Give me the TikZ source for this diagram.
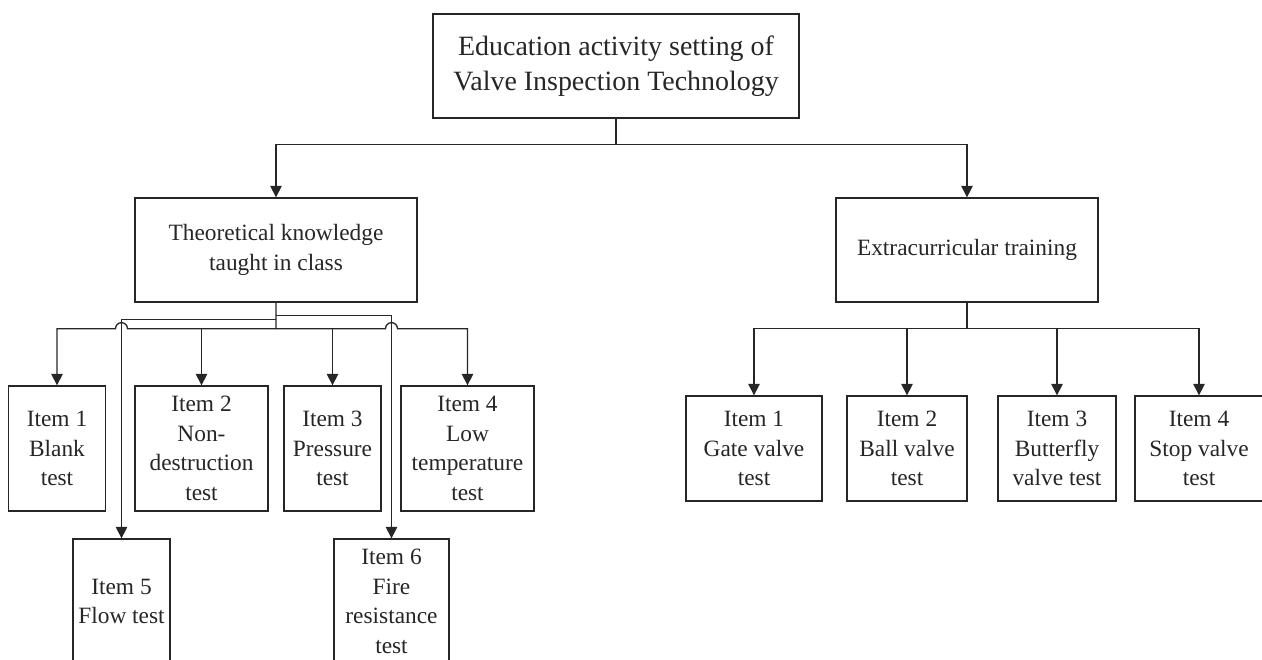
\documentclass[tikz,border=0pt]{standalone}
\usepackage{fontspec}
\setmainfont{Liberation Serif}
\usetikzlibrary{arrows.meta,shapes}

\begin{document}
\begin{tikzpicture}[shape=rectangle,>={Triangle[length=6.5pt,width=6.5pt]},
line width=0.75pt, color=black!85,
every node/.style={align=center, inner sep=0pt},
box/.style={draw, font=\fontsize{13.3}{16.8}\selectfont}]
\useasboundingbox (0,0) rectangle (25.24,-13.2);
\clip (0,0) rectangle (25.24,-13.2);

\node (educationSetting) [box, minimum width=7.32cm, minimum height=2.08cm,
font=\fontsize{15.9}{19.9}\selectfont] at (12.32,-1.32)
{Education activity setting of\\Valve Inspection Technology};
\node (theoryClass) [box, minimum width=5.64cm, minimum height=2.08cm]
at (5.52,-5.0)
{Theoretical knowledge\\taught in class};
\node (extraTraining) [box, minimum width=5.24cm, minimum height=2.08cm,
node distance=13.82cm, right of=theoryClass]
{Extracurricular training};

\node (blankTest) [box, minimum width=1.94cm, minimum height=2.5cm]
at (1.14,-8.97)
{Item 1\\Blank\\test};
\node (nonDestruction) [box, minimum width=2.66cm, minimum height=2.5cm,
node distance=2.89cm, right of=blankTest]
{Item 2\\Non-\\destruction\\test};
\node (pressureTest) [box, minimum width=1.94cm, minimum height=2.5cm,
node distance=2.62cm, right of=nonDestruction]
{Item 3\\Pressure\\test};
\node (lowTemp) [box, minimum width=2.66cm, minimum height=2.5cm,
node distance=2.7cm, right of=pressureTest]
{Item 4\\Low\\temperature\\test};
\node (flowTest) [box, minimum width=1.94cm, minimum height=2.5cm]
at (2.43,-12.03)
{Item 5\\Flow test};
\node (fireTest) [box, minimum width=2.3cm, minimum height=2.5cm,
node distance=5.4cm, right of=flowTest]
{Item 6\\Fire\\resistance\\test};

\node (gateValve) [box, minimum width=2.72cm, minimum height=2.1cm]
at (15.08,-8.97)
{Item 1\\Gate valve\\test};
\node (ballValve) [box, minimum width=2.4cm, minimum height=2.1cm,
node distance=3.06cm, right of=gateValve]
{Item 2\\Ball valve\\test};
\node (butterflyValve) [box, minimum width=2.36cm, minimum height=2.1cm,
node distance=3cm, right of=ballValve]
{Item 3\\Butterfly\\valve test};
\node (stopValve) [box, minimum width=2.56cm, minimum height=2.1cm,
node distance=2.84cm, right of=butterflyValve]
{Item 4\\Stop valve\\test};

\coordinate (mainBus) at ([yshift=-0.52cm]educationSetting.south);
\draw[->] (educationSetting.south) -- (mainBus) -| (theoryClass.north);
\draw[->] (educationSetting.south) -- (mainBus) -| (extraTraining.north);

\coordinate (classBus) at ([yshift=-0.52cm]theoryClass.south);
\coordinate (hopFlow) at (flowTest.north |- classBus);
\coordinate (hopFire) at (fireTest.north |- classBus);
\draw[->] (theoryClass.south) -- (classBus) -- ([xshift=0.12cm]hopFlow)
arc[start angle=0, end angle=180, radius=0.12cm] -| (blankTest.north);
\draw[->] (classBus) -| (nonDestruction.north);
\draw[->] (classBus) -| (pressureTest.north);
\draw[->] (classBus) -- ([xshift=-0.12cm]hopFire)
arc[start angle=180, end angle=0, radius=0.12cm] -| (lowTemp.north);
\draw[->] ([yshift=-0.34cm]theoryClass.south) -| (flowTest.north);
\draw[->] ([yshift=-0.26cm]theoryClass.south) -| (fireTest.north);

\coordinate (trainBus) at ([yshift=-0.52cm]extraTraining.south);
\draw[->] (extraTraining.south) -- (trainBus) -| (gateValve.north);
\draw[->] (trainBus) -| (ballValve.north);
\draw[->] (trainBus) -| (butterflyValve.north);
\draw[->] (trainBus) -| (stopValve.north);
\end{tikzpicture}
\end{document}
